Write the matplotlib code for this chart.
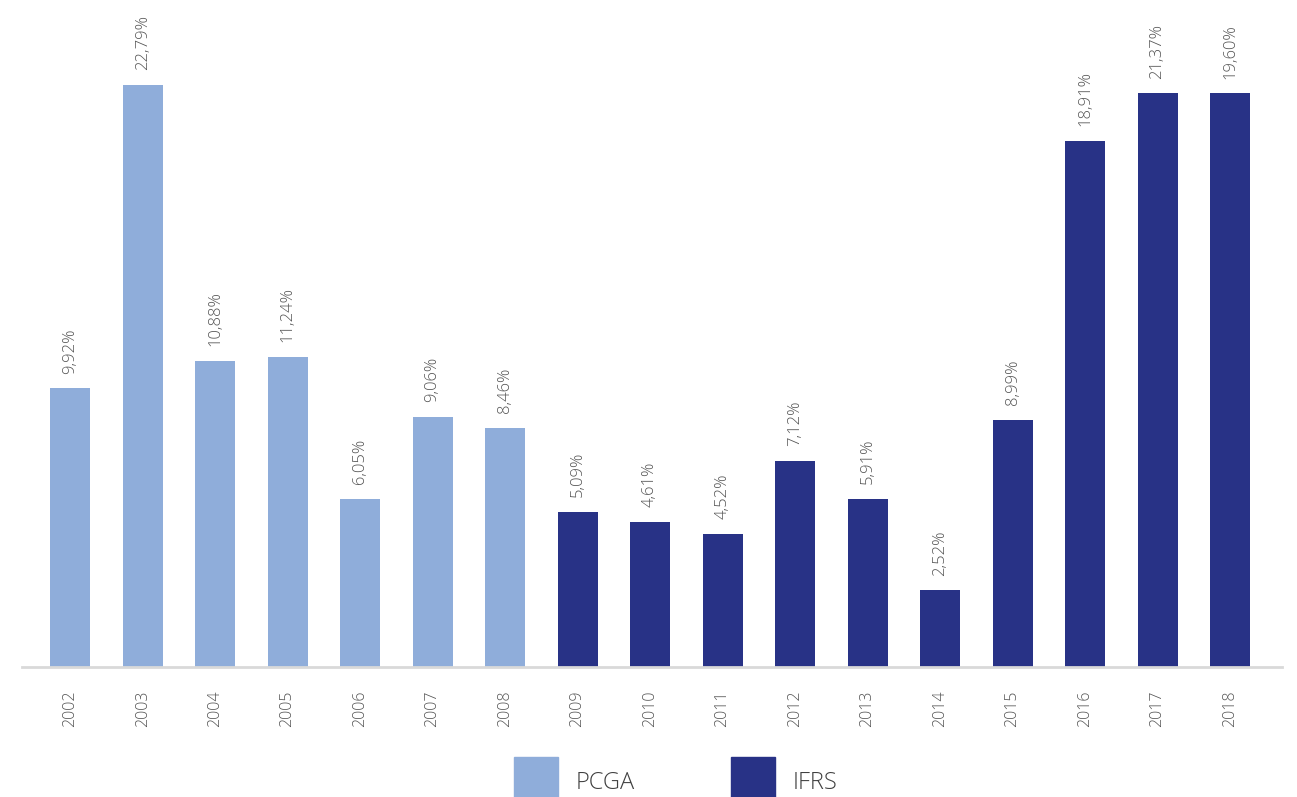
import matplotlib
matplotlib.use("Agg")
import matplotlib.pyplot as plt
from matplotlib.patches import Rectangle

years = ["2002", "2003", "2004", "2005", "2006", "2007", "2008", "2009", "2010",
         "2011", "2012", "2013", "2014", "2015", "2016", "2017", "2018"]
# bar heights as drawn in the picture (%)
bar_heights = [10.92, 22.79, 11.98, 12.14, 6.58, 9.79, 9.36, 6.07, 5.68,
               5.21, 8.07, 6.58, 3.01, 9.67, 20.60, 22.47, 22.47]
# value labels as printed
value_labels = ["9,92%", "22,79%", "10,88%", "11,24%", "6,05%", "9,06%", "8,46%",
                "5,09%", "4,61%", "4,52%", "7,12%", "5,91%", "2,52%", "8,99%",
                "18,91%", "21,37%", "19,60%"]
standard = ["PCGA"] * 7 + ["IFRS"] * 10
series_names = ["PCGA", "IFRS"]
colors = {"PCGA": "#8FADDA", "IFRS": "#283286"}

plt.rcParams['font.family'] = ['Open Sans', 'DejaVu Sans']
WEIGHT = "light"

W, H = 1297, 797
fig = plt.figure(figsize=(W / 100, H / 100), dpi=100)
ax = fig.add_axes([22 / W, 1 - 667 / H, (1282 - 22) / W, 667 / H])

x = list(range(len(years)))
ax.bar(x, bar_heights, width=0.552, color=[colors[s] for s in standard], zorder=2)
ax.set_xlim(-0.663, 16.717)
ax.set_ylim(0, 26.12)

for xi, h, lab in zip(x, bar_heights, value_labels):
    ax.annotate(lab, (xi, h), xytext=(0, 10.5), textcoords="offset points",
                rotation=90, ha="center", va="bottom", fontsize=12,
                color="#555555", fontweight=WEIGHT)

for s in ["top", "right", "left"]:
    ax.spines[s].set_visible(False)
ax.spines["bottom"].set_color("#D9D9D9")
ax.spines["bottom"].set_linewidth(2)
ax.set_yticks([])
ax.set_xticks(x)
ax.set_xticklabels(years, rotation=90, fontsize=11.5, color="#555555", fontweight=WEIGHT)
ax.tick_params(axis="x", length=0, pad=17)

# legend
tr = fig.transFigure
legend_items = [(series_names[0], 514), (series_names[1], 731)]
for name, px in legend_items:
    fig.add_artist(Rectangle((px / W, 0), 44 / W, 40 / H, transform=tr,
                             color=colors[name]))
    fig.text((px + 62) / W, 14 / H, name, fontsize=17, color="#404040",
             va="center", ha="left", fontweight=WEIGHT)

fig.savefig("out.png", dpi=100, facecolor="white")
